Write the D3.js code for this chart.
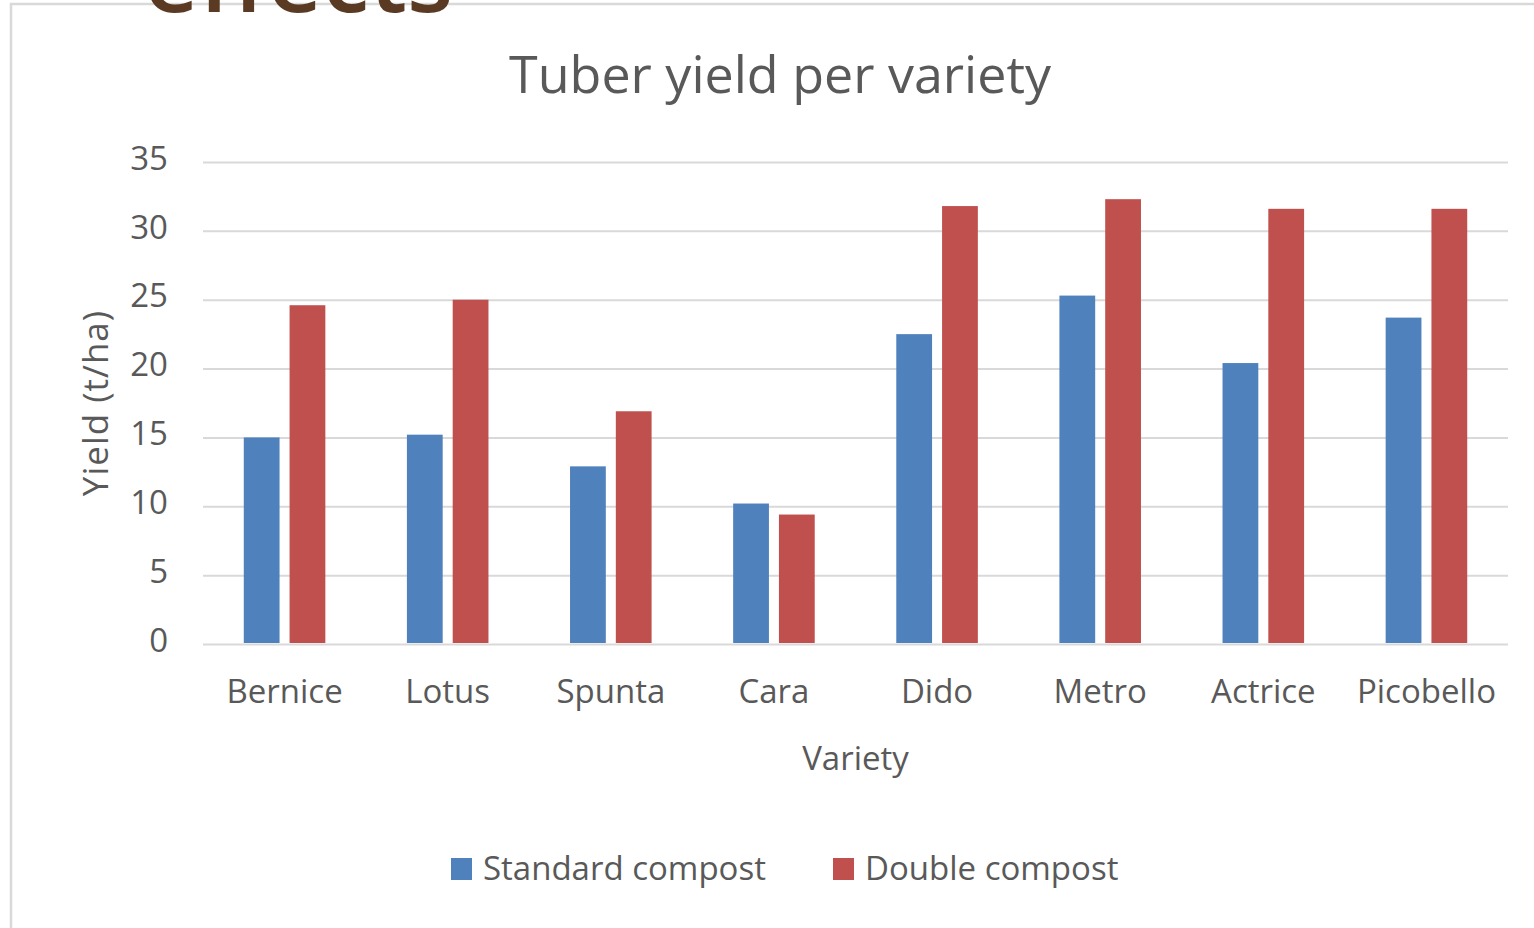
<!DOCTYPE html>
<html>
<head>
<meta charset="utf-8">
<script src="https://cdn.jsdelivr.net/npm/d3@7"></script>
<style>
  html, body { margin: 0; padding: 0; background: #fff; overflow: hidden; }
  text { font-family: "Open Sans", sans-serif; fill: #595959; }
</style>
</head>
<body>
<script>
// data
const categories = ["Bernice", "Lotus", "Spunta", "Cara", "Dido", "Metro", "Actrice", "Picobello"];
const seriesNames = ["Standard compost", "Double compost"];
const standardCompost = [15.0, 15.2, 12.9, 10.2, 22.5, 25.3, 20.4, 23.7];
const doubleCompost = [24.6, 25.0, 16.9, 9.4, 31.8, 32.3, 31.6, 31.6];
const yTicks = [0, 5, 10, 15, 20, 25, 30, 35];

const width = 1534, height = 928;
const plot = {left: 203, right: 1508, top: 162, bottom: 644};
const colors = ["#4f81bd", "#c0504d"];

const svg = d3.select("body").append("svg")
    .attr("width", width)
    .attr("height", height);

// frame of the chart box (bottom and right run off the page)
svg.append("rect")
    .attr("x", 11).attr("y", 4)
    .attr("width", 1540).attr("height", 1000)
    .attr("fill", "none")
    .attr("stroke", "#d9d9d9")
    .attr("stroke-width", 2.5);

// slide heading, cut off by the top of the page like in the source
svg.append("text")
    .attr("x", 144).attr("y", 12)
    .style("font-size", "95px")
    .style("font-weight", 600)
    .style("fill", "#5a3a22")
    .text("effects");

let y = d3.scaleLinear()
    .domain([0, 35])
    .range([plot.bottom, plot.top]);

let x0 = d3.scaleBand()
    .domain(categories)
    .range([plot.left, plot.right])
    .paddingInner(0.5)
    .paddingOuter(0.25);

let x1 = d3.scaleBand()
    .domain(seriesNames)
    .range([0, x0.bandwidth()])
    .paddingInner(0.2186);

// gridlines
let grid = svg.append("g")
    .attr("transform", "translate(" + plot.left + ",0)")
    .call(d3.axisLeft(y).tickValues(yTicks).tickSize(-(plot.right - plot.left)).tickFormat(""));
grid.select(".domain").remove();
grid.selectAll("line").attr("stroke", "#d9d9d9").attr("stroke-width", 2);

// y tick labels
let yAxis = svg.append("g")
    .attr("transform", "translate(" + plot.left + ",0)")
    .call(d3.axisLeft(y).tickValues(yTicks).tickSize(0).tickPadding(35));
yAxis.select(".domain").remove();
yAxis.selectAll("text")
    .attr("dy", "0.22em")
    .style("font-size", "33px")
    .style("font-family", "'Open Sans', sans-serif")
    .attr("fill", "#595959");

// bars
let rows = categories.map((c, i) => ({cat: c, vals: [standardCompost[i], doubleCompost[i]]}));
let groups = svg.append("g").selectAll("g")
    .data(rows)
    .enter().append("g")
    .attr("transform", d => "translate(" + x0(d.cat) + ",0)");

groups.selectAll("rect")
    .data(d => d.vals.map((v, k) => ({name: seriesNames[k], v: v, k: k})))
    .enter().append("rect")
    .attr("x", d => x1(d.name))
    .attr("width", x1.bandwidth())
    .attr("y", d => y(d.v))
    .attr("height", d => y(0) - 1 - y(d.v))
    .attr("fill", d => colors[d.k]);

// x labels
let xAxis = svg.append("g")
    .attr("transform", "translate(0," + plot.bottom + ")")
    .call(d3.axisBottom(x0).tickSize(0).tickPadding(36));
xAxis.select(".domain").remove();
xAxis.selectAll("text")
    .style("font-size", "33px")
    .style("font-family", "'Open Sans', sans-serif")
    .attr("fill", "#595959");

// titles
svg.append("text")
    .attr("x", 780).attr("y", 93)
    .attr("text-anchor", "middle")
    .style("font-size", "52px")
    .text("Tuber yield per variety");

svg.append("text")
    .attr("x", (plot.left + plot.right) / 2).attr("y", 770)
    .attr("text-anchor", "middle")
    .style("font-size", "33px")
    .text("Variety");

svg.append("text")
    .attr("transform", "translate(108," + (plot.top + plot.bottom) / 2 + ") rotate(-90)")
    .attr("text-anchor", "middle")
    .style("font-size", "35px")
    .style("letter-spacing", "1px")
    .text("Yield (t/ha)");

// legend
const legendX = [451, 833];
let legend = svg.append("g").selectAll("g")
    .data(seriesNames)
    .enter().append("g")
    .attr("transform", (d, i) => "translate(" + legendX[i] + ",858)");
legend.append("rect")
    .attr("width", 21).attr("height", 22)
    .attr("fill", (d, i) => colors[i]);
legend.append("text")
    .attr("x", 32).attr("y", 22)
    .style("font-size", "33px")
    .text(d => d);
</script>
</body>
</html>
